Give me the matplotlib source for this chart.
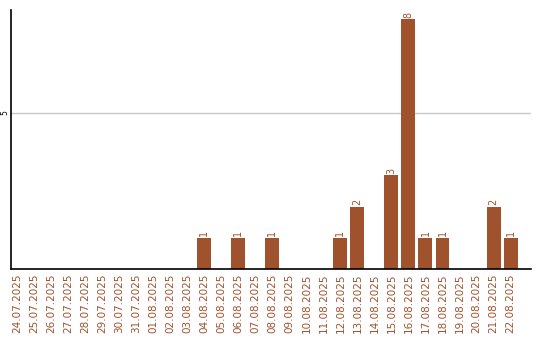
import matplotlib
matplotlib.use("Agg")
import matplotlib.pyplot as plt

dates = ["24.07.2025", "25.07.2025", "26.07.2025", "27.07.2025", "28.07.2025",
         "29.07.2025", "30.07.2025", "31.07.2025", "01.08.2025", "02.08.2025",
         "03.08.2025", "04.08.2025", "05.08.2025", "06.08.2025", "07.08.2025",
         "08.08.2025", "09.08.2025", "10.08.2025", "11.08.2025", "12.08.2025",
         "13.08.2025", "14.08.2025", "15.08.2025", "16.08.2025", "17.08.2025",
         "18.08.2025", "19.08.2025", "20.08.2025", "21.08.2025", "22.08.2025"]
counts = [0, 0, 0, 0, 0, 0, 0, 0, 0, 0,
          0, 1, 0, 1, 0, 1, 0, 0, 0, 1,
          2, 0, 3, 8, 1, 1, 0, 0, 2, 1]

bar_color = "#a0522d"

fig = plt.figure(figsize=(5.4, 3.4), dpi=100)
ax = fig.add_axes([11 / 540, 1 - 269 / 340, 520 / 540, 259 / 340])

x = list(range(len(dates)))
ax.bar(x, counts, width=0.82, color=bar_color, zorder=2)

# value labels above the non-empty bars
for i, c in enumerate(counts):
    if c > 0:
        ax.text(i, c + 0.05, str(c), rotation=90, ha="center", va="bottom",
                fontsize=7, color=bar_color)

ax.set_xlim(-0.35, 30.2)
ax.set_ylim(0, 8.3)
ax.set_xticks(x)
ax.set_xticklabels(dates, rotation=90, fontsize=7.5, color=bar_color)
ax.set_yticks([5])
ax.set_yticklabels(["5"], rotation=90, fontsize=5.5, va="center")
ax.tick_params(axis="x", length=0, pad=3)
ax.tick_params(axis="y", length=0, pad=1)
ax.grid(axis="y", color="#c8c8c8", linewidth=1, zorder=0)

for side in ["top", "right"]:
    ax.spines[side].set_visible(False)
ax.spines["left"].set_linewidth(1.2)
ax.spines["bottom"].set_linewidth(1.2)

fig.savefig("out.png", dpi=100)
